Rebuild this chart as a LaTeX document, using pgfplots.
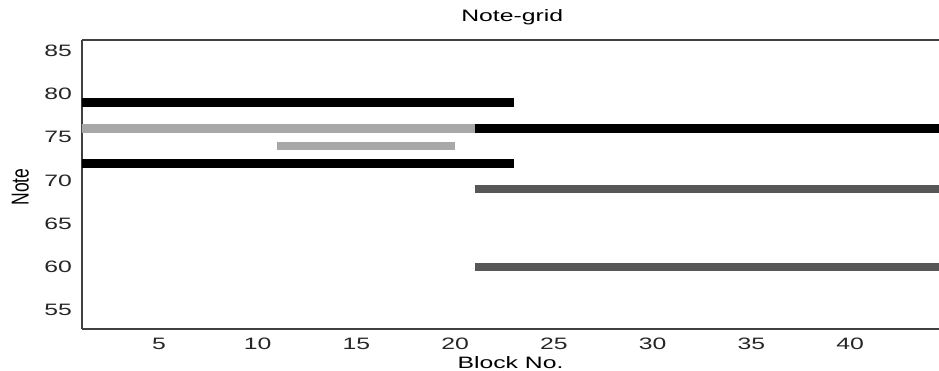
\documentclass[border=0pt]{standalone}
\usepackage{fontspec}
\setmainfont{Liberation Sans}
\newfontfamily\wide[FakeStretch=1.5]{Liberation Sans}
\usepackage{pgfplots}
\pgfplotsset{compat=1.18}
\definecolor{lgray}{HTML}{A8A8A8}
\definecolor{dgray}{HTML}{575757}
\definecolor{axgray}{HTML}{404040}
\begin{document}
\begin{tikzpicture}
\path[use as bounding box] (-82pt,-41pt) rectangle (857pt,329pt);
\begin{axis}[at={(0pt,0pt)}, anchor=south west,
  scale only axis, width=857pt, height=289pt,
  xmin=1.1, xmax=44.5, ymin=52.8, ymax=86.24,
  axis x line*=box, axis y line*=left,
  axis line style={draw=axgray, line width=1.2pt},
  xtick={5,10,...,40}, ytick={55,60,...,85},
  major tick length=0pt,
  /pgf/number format/assume math mode=true,
  tick label style={font=\wide\fontsize{16.5}{17}\selectfont, text=black!85},
  xticklabel style={anchor=base, yshift=-20pt},
  yticklabel style={anchor=east, inner xsep=0pt, xshift=-10pt},
  title={Note-grid},
  title style={font=\wide\fontsize{16.5}{17}\selectfont, at={(axis description cs:0.502,1)}, anchor=base, yshift=12pt},
  xlabel={Block No.},
  xlabel style={font=\wide\fontsize{16.5}{17}\selectfont, at={(axis description cs:0.5,0)}, anchor=base, yshift=-39pt},
  ylabel={\scalebox{1}[1.4]{Note}},
  ylabel style={font=\fontsize{17.5}{18}\selectfont, at={(axis description cs:-0.072,0.491)}, anchor=center},
  clip=true,
]
\addplot[black, line width=9pt, line cap=butt] coordinates {(0,79) (23,79)};
\addplot[lgray, line width=9pt, line cap=butt] coordinates {(0,76) (21,76)};
\addplot[black, line width=9pt, line cap=butt] coordinates {(21,76) (46,76)};
\addplot[lgray, line width=8pt, line cap=butt] coordinates {(11,74) (20,74)};
\addplot[black, line width=9pt, line cap=butt] coordinates {(0,72) (23,72)};
\addplot[dgray, line width=8.5pt, line cap=butt] coordinates {(21,69) (46,69)};
\addplot[dgray, line width=8.5pt, line cap=butt] coordinates {(21,60) (46,60)};
\end{axis}
\end{tikzpicture}
\end{document}
